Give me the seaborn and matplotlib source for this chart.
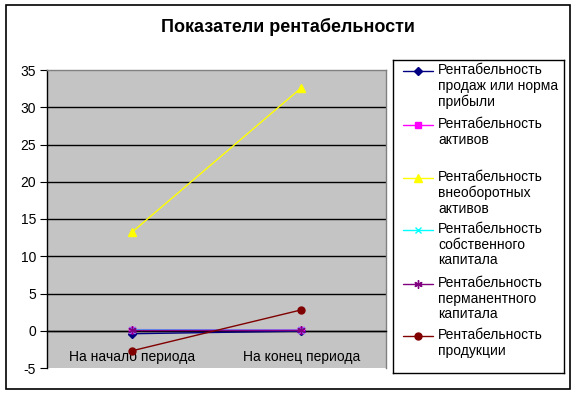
import pandas as pd
import matplotlib.pyplot as plt
import seaborn as sns
import numpy as np
from matplotlib.patches import Rectangle

# --- ДАННЫЕ ---
PERIODS = ["На начало периода", "На конец периода"]
SERIES = [
    "Рентабельность\nпродаж или норма\nприбыли",
    "Рентабельность\nактивов",
    "Рентабельность\nвнеоборотных\nактивов",
    "Рентабельность\nсобственного\nкапитала",
    "Рентабельность\nперманентного\nкапитала",
    "Рентабельность\nпродукции",
]
sales = [-0.4, -0.05]
assets = [0.15, 0.1]
noncurrent = [13.2, 32.6]
equity = [0.1, 0.05]
permanent = [0.1, 0.1]
product = [-2.7, 2.8]
VALUES = [sales, assets, noncurrent, equity, permanent, product]

COLORS = ["#000080", "#FF00FF", "#FFFF00", "#00FFFF", "#800080", "#800000"]
MARKERS = ["D", "s", "^", "x", (6, 2, 0), "o"]
MSIZES = [4, 5, 5.5, 5, 6, 5]

W, H = 576, 395
sns.set_style("white")
plt.rcParams['font.family'] = ['Liberation Sans', 'DejaVu Sans']
plt.rcParams['text.color'] = 'black'
plt.rcParams['xtick.color'] = 'black'
plt.rcParams['ytick.color'] = 'black'

fig = plt.figure(figsize=(W / 100, H / 100), dpi=100)

def px(x0, y0, x1, y1):
    # прямоугольник в пикселях (сверху вниз) -> доли фигуры
    return [x0 / W, 1 - y1 / H, (x1 - x0) / W, (y1 - y0) / H]

ax = fig.add_axes(px(47, 70, 386, 368))
ax.set_facecolor("#c4c4c4")

df = pd.DataFrame({
    "pos": np.tile(np.arange(len(PERIODS)), len(SERIES)),
    "value": np.concatenate(VALUES),
    "series": np.repeat(range(len(SERIES)), len(PERIODS)),
})

for i in range(len(SERIES)):
    d = df[df["series"] == i]
    sns.lineplot(data=d, x="pos", y="value", color=COLORS[i], marker=MARKERS[i],
                 markersize=MSIZES[i], markeredgecolor=COLORS[i], markeredgewidth=1,
                 linewidth=1, ax=ax, legend=False, zorder=3 + i)

ax.set_xlim(-0.5, 1.5)
ax.set_ylim(-5, 35)
ax.set_yticks(np.arange(-5, 36, 5))
ax.set_yticklabels([str(v) for v in range(-5, 36, 5)], fontsize=10)
for y in range(0, 31, 5):
    ax.axhline(y, color="black", lw=1, zorder=1)
ax.grid(False)

ax.set_xticks(range(len(PERIODS)))
ax.set_xticklabels(PERIODS, fontsize=10)
ax.set_xticks([0.5, 1.5], minor=True)
ax.tick_params(axis="x", which="major", length=0, pad=14)
ax.tick_params(axis="x", which="minor", length=6, direction="inout", color="black")
ax.tick_params(axis="y", length=5, direction="out", color="black", pad=3, left=True)
ax.spines["bottom"].set_position(("data", 0))
ax.spines["bottom"].set_color("black")
ax.spines["left"].set_color("black")
ax.spines["top"].set_color("#808080")
ax.spines["right"].set_color("#808080")
for s in ax.spines.values():
    s.set_linewidth(1)
ax.set_xlabel("")
ax.set_ylabel("")

# --- Легенда ---
lx0, ly0, lx1, ly1 = 393, 60, 564, 373
lax = fig.add_axes(px(lx0, ly0, lx1, ly1))
lax.set_xlim(lx0, lx1)
lax.set_ylim(ly1, ly0)
lax.set_xticks([])
lax.set_yticks([])
for s in lax.spines.values():
    s.set_color("black")
    s.set_linewidth(1)
lax.set_facecolor("white")
entry_y = [71, 125, 178, 230, 284, 336]
for i, lab in enumerate(SERIES):
    y = entry_y[i]
    lax.plot([403, 433], [y, y], color=COLORS[i], lw=1)
    lax.plot([418], [y], color=COLORS[i], marker=MARKERS[i], markersize=MSIZES[i],
             markeredgecolor=COLORS[i], markeredgewidth=1)
    lax.text(438, y - 8, lab, fontsize=10, va="top", ha="left", linespacing=1.14)

fig.text(288 / W, 1 - 27 / H, "Показатели рентабельности", fontsize=13,
         fontweight="bold", ha="center", va="center")

fig.add_artist(Rectangle((6 / W, 1 - 389 / H), 564 / W, 384 / H,
                         transform=fig.transFigure, fill=False, lw=1.2, ec="black"))

fig.savefig("out.png", dpi=100)
